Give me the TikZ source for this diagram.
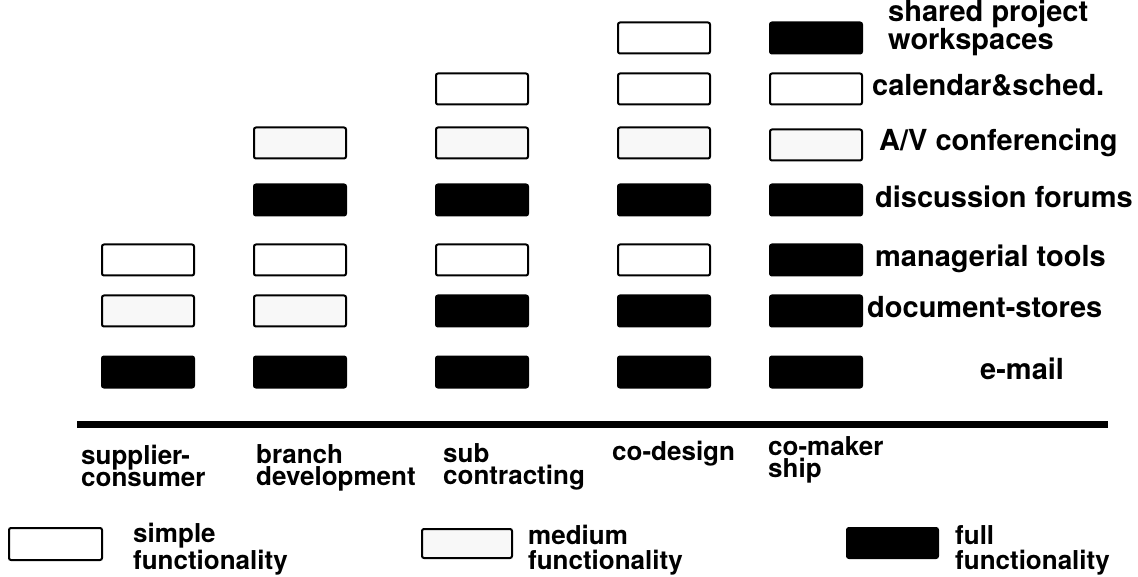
\documentclass[tikz,border=0pt]{standalone}
\usepackage{fontspec}
\setmainfont{TeX Gyre Heros}
\usetikzlibrary{positioning}
\definecolor{simpleColor}{RGB}{255,255,255}
\definecolor{mediumColor}{RGB}{248,248,248}
\definecolor{fullColor}{RGB}{0,0,0}
\tikzset{feature/.style={draw, line width=2pt, minimum width=92pt, minimum height=31pt, rounded corners=2pt, inner sep=0pt}}
\tikzset{simplebox/.style={feature, fill=simpleColor}}
\tikzset{mediumbox/.style={feature, fill=mediumColor}}
\tikzset{fullbox/.style={feature, fill=fullColor}}
\tikzset{rowlabel/.style={anchor=base west, inner sep=0pt, align=left, font=\bfseries\fontsize{29}{18}\selectfont}}
\tikzset{collabel/.style={anchor=base west, inner sep=0pt, align=left, font=\bfseries\fontsize{26}{22}\selectfont}}
\tikzset{legendlabel/.style={collabel, font=\bfseries\fontsize{26}{25}\selectfont}}

\begin{document}
\begin{tikzpicture}[x=1pt, y=-1pt]
	\useasboundingbox (0,0) rectangle (1138,577);

	% supplier-consumer
	\node (sc-mgmt) [simplebox] at (148,260) {};
	\node (sc-docs) [mediumbox] at (148,311) {};
	\node (sc-mail) [fullbox] at (148,372) {};

	% branch development
	\node (bd-av) [mediumbox] at (300,143) {};
	\node (bd-forum) [fullbox] at (300,200) {};
	\node (bd-mgmt) [simplebox] at (300,260) {};
	\node (bd-docs) [mediumbox] at (300,311) {};
	\node (bd-mail) [fullbox] at (300,372) {};

	% sub contracting
	\node (sub-cal) [simplebox] at (482,89) {};
	\node (sub-av) [mediumbox] at (482,143) {};
	\node (sub-forum) [fullbox] at (482,200) {};
	\node (sub-mgmt) [simplebox] at (482,260) {};
	\node (sub-docs) [fullbox] at (482,311) {};
	\node (sub-mail) [fullbox] at (482,372) {};

	% co-design
	\node (cod-ws) [simplebox] at (664,38) {};
	\node (cod-cal) [simplebox] at (664,89) {};
	\node (cod-av) [mediumbox] at (664,143) {};
	\node (cod-forum) [fullbox] at (664,200) {};
	\node (cod-mgmt) [simplebox] at (664,260) {};
	\node (cod-docs) [fullbox] at (664,311) {};
	\node (cod-mail) [fullbox] at (664,372) {};

	% co-makership
	\node (com-ws) [fullbox] at (816,38) {};
	\node (com-cal) [simplebox] at (816,89) {};
	\node (com-av) [mediumbox] at (816,145) {};
	\node (com-forum) [fullbox] at (816,200) {};
	\node (com-mgmt) [fullbox] at (816,260) {};
	\node (com-docs) [fullbox] at (816,311) {};
	\node (com-mail) [fullbox] at (816,372) {};

	% Tool labels (base = last line)
	\node (ws) [rowlabel] at (888,50) {shared project\\workspaces};
	\node (cal) [rowlabel] at (872,96) {calendar\&sched.};
	\node (av) [rowlabel] at (879,151) {A/V conferencing};
	\node (forum) [rowlabel] at (875,208) {discussion forums};
	\node (mgmt) [rowlabel] at (875,267) {managerial tools};
	\node (docs) [rowlabel] at (867,318) {document-stores};
	\node (mail) [rowlabel] at (980,379) {e-mail};

	% Axis
	\coordinate (axis-start) at (77,424.5);
	\coordinate (axis-end) at (1108,424.5);
	\draw [line width=7.5pt] (axis-start) -- (axis-end);

	% Cooperation types
	\node (sc) [collabel] at (81,486) {supplier-\\consumer};
	\node (bd) [collabel] at (256,485) {branch\\development};
	\node (sub) [collabel] at (443,484) {sub\\contracting};
	\node (cod) [collabel] at (612,460) {co-design};
	\node (com) [collabel] at (768,477) {co-maker\\ship};

	% Legend
	\node (lg-simple) [simplebox, minimum width=93pt, minimum height=32pt] at (55.5,544) {};
	\node (lg-medium) [mediumbox, minimum width=90pt, minimum height=29pt] at (467,543.5) {};
	\node (lg-full) [fullbox, minimum width=91pt, minimum height=30pt] at (892.5,543) {};
	\node (lg-simple-text) [legendlabel] at (133,569) {simple\\functionality};
	\node (lg-medium-text) [legendlabel] at (528,569) {medium\\functionality};
	\node (lg-full-text) [legendlabel] at (955,569) {full\\functionality};

\end{tikzpicture}
\end{document}
